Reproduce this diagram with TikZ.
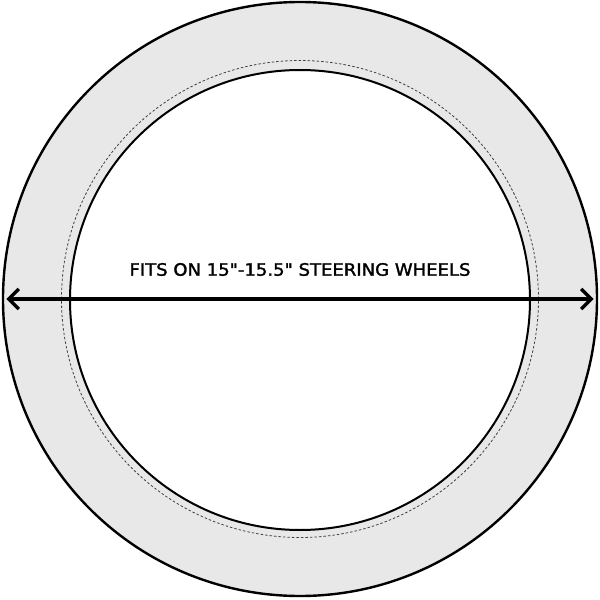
\documentclass[tikz,border=0pt]{standalone}
\usepackage{fontspec}
\newfontfamily\fitfont{DejaVu Sans}[FakeBold=1.6]
\usetikzlibrary{positioning,arrows.meta}
\definecolor{ringgray}{HTML}{E8E8E8}

\begin{document}
\begin{tikzpicture}
[
x=1pt, y=1pt,
rim-a/.style={circle, draw, line width=2.4pt, fill=ringgray, inner sep=0pt, minimum size=594pt},
seam-a/.style={circle, draw=black!75, line width=0.8pt, dash pattern=on 2.5pt off 2pt, inner sep=0pt, minimum size=477pt},
hole-a/.style={circle, draw, line width=2pt, fill=white, inner sep=0pt, minimum size=460pt},
text-a/.style={font=\fitfont\fontsize{17}{20}\selectfont, anchor=base}
]
\useasboundingbox (-300,-301) rectangle (300,299);
\node (rim)   [rim-a]  at (0,0) { };
\node (seam)  [seam-a] at (0,0) { };
\node (hole)  [hole-a] at (0,-1) { };
\node (fit-lb) [text-a] at (0,23.3) {\scalebox{1.06}[1]{FITS ON 15"-15.5" STEERING WHEELS}};
\coordinate (tip-l) at (-293.5,0);
\coordinate (tip-r) at (293.5,0);
\draw [line width=3.2pt, {Straight Barb[length=10pt, width=20pt]}-{Straight Barb[length=10pt, width=20pt]}] (tip-l) -- (tip-r);
\end{tikzpicture}
\end{document}
